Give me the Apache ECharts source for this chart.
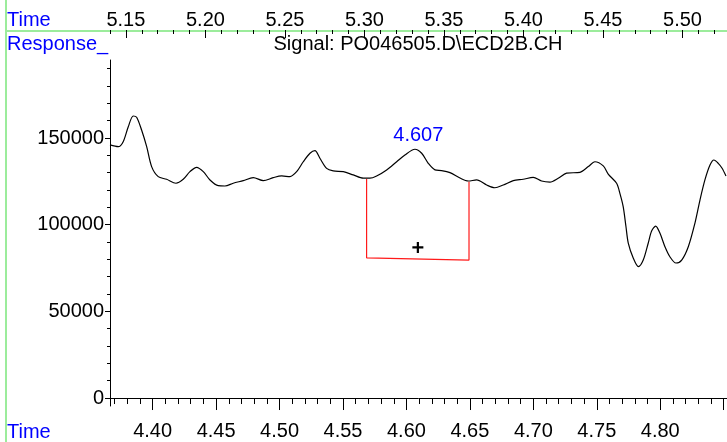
<!DOCTYPE html>
<html><head><meta charset="utf-8">
<script src="https://cdn.jsdelivr.net/npm/echarts@6/dist/echarts.min.js"></script>
<style>html,body{margin:0;padding:0;background:#fff}#c{width:727px;height:442px}</style>
</head><body><div id="c"></div>
<script>
// ---- data ----
const traceTime = [4.3664,4.3729,4.3768,4.3808,4.3847,4.3874,4.3913,4.3953,4.3992,4.4044,4.4110,4.4184,4.4241,4.4294,4.4347,4.4399,4.4452,4.4517,4.4570,4.4635,4.4714,4.4793,4.4872,4.4950,4.5017,4.5082,4.5135,4.5187,4.5240,4.5279,4.5318,4.5371,4.5423,4.5502,4.5581,4.5660,4.5712,4.5765,4.5844,4.5923,4.5988,4.6067,4.6120,4.6172,4.6225,4.6277,4.6343,4.6422,4.6487,4.6553,4.6632,4.6697,4.6763,4.6842,4.6920,4.6999,4.7065,4.7131,4.7196,4.7262,4.7367,4.7433,4.7485,4.7551,4.7590,4.7656,4.7682,4.7708,4.7730,4.7748,4.7787,4.7828,4.7866,4.7905,4.7932,4.7964,4.7998,4.8037,4.8076,4.8124,4.8169,4.8221,4.8273,4.8313,4.8352,4.8392,4.8423,4.8457,4.8486,4.8518];
const traceResponse = [146000,145000,147900,156500,162700,162000,154600,145000,133500,127700,126200,123900,126200,130600,133100,130600,125800,122500,122300,123900,125400,127100,125400,127100,128100,127700,130600,136300,141200,142700,138300,132500,131000,130600,128700,126800,126800,128100,131600,136300,140200,143500,141200,135400,131600,131200,130000,126900,125200,125800,122900,121300,122900,125400,126200,127300,125200,124600,126800,129700,130200,133500,136300,133900,129200,123900,118100,110400,98800,89400,80800,75800,79600,89300,96400,99200,95000,87300,81500,77900,79600,87300,100800,114200,125800,134400,137300,135400,132700,128100];
const baselineTime = [4.5686, 4.5686, 4.6493, 4.6493];
const baselineResponse = [126400, 80900, 79600, 124800];
const apexTime = [4.607];
const apexResponse = [143500];
const apexLabel = ['4.607'];
const centroidTime = [4.609];
const centroidResponse = [86900];
const bottomTickLabels = [4.40, 4.45, 4.50, 4.55, 4.60, 4.65, 4.70, 4.75, 4.80];
const bottomMajorTicks = [4.40, 4.45, 4.50, 4.55, 4.60, 4.65, 4.70, 4.75, 4.80, 4.85];
const topTickLabels = [5.15, 5.20, 5.25, 5.30, 5.35, 5.40, 5.45, 5.50];
const yTickLabels = [0, 50000, 100000, 150000];
const titleText = 'Signal: PO046505.D\\ECD2B.CH';

// ---- axis ranges ----
const xMin = 4.3664, xMax = 4.8526;
const topMin = 5.14, topMax = 5.528;
const yMin = -4600, yMax = 195000;

function steps(a, b, n) { const out = []; for (let i = a; i <= b; i++) out.push(i / n); return out; }
const bottomMinorTicks = steps(437, 485, 100);
const topMinorTicks = steps(514, 552, 100);
const yMinorTicks = steps(1, 19, 1).map(v => v * 10000);

const FONT = "'Liberation Sans', Arial, sans-serif";
const green = '#9cec9c';
const blue = '#0000ff';

const chart = echarts.init(document.getElementById('c'), null, {renderer: 'canvas'});
const pair = (xs, ys) => xs.map((x, i) => [x, ys[i]]);

const hiddenLabel = {show: false};
chart.setOption({
  animation: false,
  backgroundColor: '#fff',
  grid: [
    {left: 110, right: 0, top: 60, bottom: 36},
    {left: 110, right: 0, top: 0, height: 30},
    {left: 110, right: 0, top: 60, bottom: 36},
    {left: 110, right: 0, top: 0, height: 30}
  ],
  xAxis: [
    {gridIndex: 0, type: 'value', min: xMin, max: xMax, position: 'bottom',
     axisLine: {show: true, lineStyle: {color: '#000', width: 1}},
     axisTick: {show: true, customValues: bottomMajorTicks, length: 12, lineStyle: {color: '#000', width: 1}},
     axisLabel: {show: true, customValues: bottomTickLabels, formatter: v => v.toFixed(2), margin: 15,
                 color: '#000', fontSize: 20, fontFamily: FONT},
     splitLine: {show: false}},
    {gridIndex: 2, type: 'value', min: xMin, max: xMax, position: 'bottom',
     axisLine: {show: false},
     axisTick: {show: true, customValues: bottomMinorTicks, length: 6, lineStyle: {color: '#000', width: 1}},
     axisLabel: hiddenLabel, splitLine: {show: false}},
    {gridIndex: 1, type: 'value', min: topMin, max: topMax, position: 'top',
     axisLine: {show: false},
     axisTick: {show: true, inside: true, customValues: topTickLabels, length: 8, lineStyle: {color: '#000', width: 1}},
     axisLabel: {show: true, inside: true, customValues: topTickLabels, formatter: v => v.toFixed(2), margin: 10,
                 color: '#000', fontSize: 20, fontFamily: FONT},
     splitLine: {show: false}},
    {gridIndex: 3, type: 'value', min: topMin, max: topMax, position: 'top',
     axisLine: {show: false},
     axisTick: {show: true, inside: true, customValues: topMinorTicks, length: 4, lineStyle: {color: '#000', width: 1}},
     axisLabel: hiddenLabel, splitLine: {show: false}}
  ],
  yAxis: [
    {gridIndex: 0, type: 'value', min: yMin, max: yMax,
     axisLine: {show: true, lineStyle: {color: '#000', width: 1}},
     axisTick: {show: true, customValues: yTickLabels, length: 5, lineStyle: {color: '#000', width: 1}},
     axisLabel: {show: true, customValues: yTickLabels, formatter: v => String(v), margin: 6,
                 color: '#000', fontSize: 20, fontFamily: FONT},
     splitLine: {show: false}},
    {gridIndex: 1, type: 'value', show: false, min: 0, max: 1},
    {gridIndex: 2, type: 'value', min: yMin, max: yMax,
     axisLine: {show: false},
     axisTick: {show: true, customValues: yMinorTicks, length: 3, lineStyle: {color: '#000', width: 1}},
     axisLabel: hiddenLabel, splitLine: {show: false}},
    {gridIndex: 3, type: 'value', show: false, min: 0, max: 1}
  ],
  series: [
    {type: 'line', xAxisIndex: 0, yAxisIndex: 0, data: pair(traceTime, traceResponse),
     showSymbol: false, smooth: 0.3, lineStyle: {color: '#000', width: 1.2}, silent: true},
    {type: 'line', xAxisIndex: 0, yAxisIndex: 0, data: pair(baselineTime, baselineResponse),
     showSymbol: false, lineStyle: {color: '#ff1a1a', width: 1.2}, silent: true},
    {type: 'scatter', xAxisIndex: 0, yAxisIndex: 0, data: pair(centroidTime, centroidResponse),
     symbol: 'path://M4,0h2v10h-2zM0,4h10v2h-10z', symbolSize: 11,
     itemStyle: {color: '#000', opacity: 1}, silent: true},
    {type: 'scatter', xAxisIndex: 0, yAxisIndex: 0, data: pair(apexTime, apexResponse),
     symbolSize: 0,
     label: {show: true, position: 'top', distance: 4, offset: [3, 0], formatter: p => apexLabel[p.dataIndex],
             color: blue, opacity: 1, fontSize: 20, fontFamily: FONT},
     itemStyle: {opacity: 1},
     silent: true}
  ],
  graphic: [
    {type: 'line', shape: {x1: 6, y1: 0, x2: 6, y2: 442}, style: {stroke: green, lineWidth: 2}},
    {type: 'line', shape: {x1: 6, y1: 31, x2: 727, y2: 31}, style: {stroke: green, lineWidth: 2}},
    {type: 'text', x: 7, y: 20, style: {text: 'Time', fill: blue, font: '20px ' + FONT, textVerticalAlign: 'middle'}},
    {type: 'text', x: 7, y: 44, style: {text: 'Response_', fill: blue, font: '20px ' + FONT, textVerticalAlign: 'middle'}},
    {type: 'text', x: 7, y: 432, style: {text: 'Time', fill: blue, font: '20px ' + FONT, textVerticalAlign: 'middle'}},
    {type: 'text', x: 418, y: 44, style: {text: titleText, fill: '#000', font: '20px ' + FONT, textAlign: 'center', textVerticalAlign: 'middle'}}
  ]
});
</script>
</body></html>
